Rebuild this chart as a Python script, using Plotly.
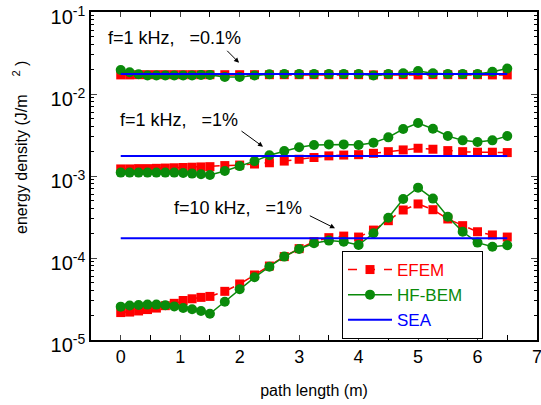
import plotly.graph_objects as go

# path length positions (m)
x_path = [0.0, 0.15, 0.3, 0.45, 0.6, 0.75, 0.9, 1.05, 1.2, 1.35, 1.5,
          1.75, 2.0, 2.25, 2.5, 2.75, 3.0, 3.25, 3.5, 3.75, 4.0,
          4.25, 4.5, 4.75, 5.0, 5.25, 5.5, 5.75, 6.0, 6.25, 6.5]

# f=1 kHz, eta=0.1%
efem_1k_01 = [0.0171, 0.0171, 0.0172, 0.0172, 0.0172, 0.0172, 0.0172, 0.0172, 0.0172, 0.0172, 0.0172,
              0.0172, 0.0172, 0.0172, 0.0172, 0.0172, 0.0172, 0.0172, 0.0172, 0.0172, 0.0172,
              0.0171, 0.0172, 0.0172, 0.0171, 0.0172, 0.0172, 0.0172, 0.0172, 0.0171, 0.0171]
bem_1k_01 = [0.0196, 0.0184, 0.0174, 0.0168, 0.0168, 0.0168, 0.0168, 0.0168, 0.0168, 0.0171, 0.0171,
             0.0161, 0.0161, 0.0168, 0.0174, 0.0175, 0.0175, 0.0175, 0.0175, 0.0175, 0.0175,
             0.0168, 0.0175, 0.0179, 0.0191, 0.0179, 0.0175, 0.0175, 0.0175, 0.0187, 0.0205]

# f=1 kHz, eta=1%
efem_1k_1 = [1.22e-3, 1.22e-3, 1.23e-3, 1.23e-3, 1.24e-3, 1.25e-3, 1.26e-3, 1.27e-3, 1.28e-3, 1.29e-3, 1.30e-3,
             1.34e-3, 1.36e-3, 1.40e-3, 1.45e-3, 1.52e-3, 1.60e-3, 1.68e-3, 1.76e-3, 1.80e-3, 1.82e-3,
             1.89e-3, 1.98e-3, 2.08e-3, 2.18e-3, 2.12e-3, 2.04e-3, 1.98e-3, 1.95e-3, 1.95e-3, 1.93e-3]
bem_1k_1 = [1.10e-3, 1.10e-3, 1.10e-3, 1.10e-3, 1.10e-3, 1.10e-3, 1.10e-3, 1.09e-3, 1.07e-3, 1.05e-3, 1.03e-3,
            1.15e-3, 1.32e-3, 1.52e-3, 1.79e-3, 2.02e-3, 2.24e-3, 2.39e-3, 2.43e-3, 2.43e-3, 2.39e-3,
            2.55e-3, 2.96e-3, 3.74e-3, 4.43e-3, 3.77e-3, 3.08e-3, 2.72e-3, 2.60e-3, 2.72e-3, 3.08e-3]

# f=10 kHz, eta=1%
efem_10k_1 = [2.16e-5, 2.19e-5, 2.26e-5, 2.35e-5, 2.45e-5, 2.62e-5, 2.80e-5, 3.03e-5, 3.18e-5, 3.31e-5, 3.40e-5,
              3.92e-5, 4.82e-5, 6.21e-5, 7.98e-5, 1.04e-4, 1.30e-4, 1.58e-4, 1.77e-4, 1.85e-4, 1.80e-4,
              2.19e-4, 2.85e-4, 3.85e-4, 4.56e-4, 3.88e-4, 2.99e-4, 2.48e-4, 2.09e-4, 1.91e-4, 1.80e-4]
bem_10k_1 = [2.55e-5, 2.63e-5, 2.67e-5, 2.70e-5, 2.70e-5, 2.65e-5, 2.57e-5, 2.45e-5, 2.37e-5, 2.26e-5, 2.09e-5,
             2.93e-5, 4.15e-5, 5.81e-5, 7.83e-5, 1.04e-4, 1.29e-4, 1.51e-4, 1.63e-4, 1.58e-4, 1.44e-4,
             2.00e-4, 3.10e-4, 5.25e-4, 7.21e-4, 5.30e-4, 3.19e-4, 2.09e-4, 1.54e-4, 1.37e-4, 1.43e-4]

# SEA (constant levels)
sea_x = [0.0, 6.5]
sea_1k_01 = [1.75e-2, 1.75e-2]
sea_1k_1 = [1.75e-3, 1.75e-3]
sea_10k_1 = [1.74e-4, 1.74e-4]

y_tickvals = [1e-5, 1e-4, 1e-3, 1e-2, 1e-1]
y_ticktext = ["10<sup>-5</sup>", "10<sup>-4</sup>", "10<sup>-3</sup>", "10<sup>-2</sup>", "10<sup>-1</sup>"]
x_tickvals = [0, 1, 2, 3, 4, 5, 6, 7]

FONT = "Liberation Sans, Arial, sans-serif"
RED = "#ff0000"
GREEN = "#0a8a0a"
BLUE = "#0000ff"
NB = "\u00a0"


def join(*groups):
    xs, ys = [], []
    for gx, gy in groups:
        if xs:
            xs.append(None)
            ys.append(None)
        xs.extend(gx)
        ys.extend(gy)
    return xs, ys


fig = go.Figure()

ex, ey = join((x_path, efem_1k_01), (x_path, efem_1k_1), (x_path, efem_10k_1))
fig.add_trace(go.Scatter(
    x=ex, y=ey, mode="lines+markers", connectgaps=False,
    name="<span style='color:#ff0000'>EFEM</span>" + NB * 4,
    line=dict(color=RED, width=1.5, dash="dash"),
    marker=dict(symbol="square", size=9, color=RED),
))

bx, by = join((x_path, bem_1k_01), (x_path, bem_1k_1), (x_path, bem_10k_1))
fig.add_trace(go.Scatter(
    x=bx, y=by, mode="lines+markers", connectgaps=False,
    name="<span style='color:#0a8a0a'>HF-BEM</span>" + NB * 3,
    line=dict(color=GREEN, width=1.5),
    marker=dict(symbol="circle", size=10, color=GREEN),
))

sx, sy = join((sea_x, sea_1k_01), (sea_x, sea_1k_1), (sea_x, sea_10k_1))
fig.add_trace(go.Scatter(
    x=sx, y=sy, mode="lines", connectgaps=False,
    name="<span style='color:#0000ff'>SEA</span>",
    line=dict(color=BLUE, width=2),
))

# plot area in pixels: x 91..537, y 12..340
L, R, T, B = 91, 537, 12, 340
W, H = 541, 405


def px(xp):
    return (xp - L) / (R - L)


def py(yp):
    return (B - yp) / (B - T)


labels = [
    ("f=1 kHz," + NB * 3 + "=0.1%", 106, 38),
    ("f=1 kHz," + NB * 3 + "=1%", 118, 120),
    ("f=10 kHz," + NB * 3 + "=1%", 172, 208),
]
for txt, lx, ly in labels:
    fig.add_annotation(text=txt, x=px(lx), y=py(ly), xref="paper", yref="paper",
                       xanchor="left", yanchor="middle", showarrow=False,
                       font=dict(family=FONT, size=18, color="black"))

arrows = [((239, 62.7), (225.7, 49.3)),
          ((263, 146.7), (240, 130)),
          ((335, 228.3), (308.3, 215))]
for (hx, hy), (tx, ty) in arrows:
    fig.add_annotation(x=px(hx), y=py(hy), xref="paper", yref="paper", text="",
                       showarrow=True, ax=tx - hx, ay=ty - hy,
                       arrowhead=2, arrowsize=1, arrowwidth=1, arrowcolor="black")

# y-axis title as rotated annotation
fig.add_annotation(text="energy density (J/m" + NB * 4 + "<sup>2</sup>" + NB + ")",
                   x=px(20), y=py(148),
                   xref="paper", yref="paper", textangle=-90, showarrow=False,
                   xanchor="center", yanchor="middle",
                   font=dict(family=FONT, size=16, color="black"))

fig.update_layout(
    width=W, height=H,
    margin=dict(l=L, r=W - R, t=T, b=H - B),
    paper_bgcolor="white", plot_bgcolor="white",
    font=dict(family=FONT, size=16, color="black"),
    showlegend=True,
    legend=dict(x=px(342), y=py(339), xanchor="left", yanchor="bottom",
                bordercolor="black", borderwidth=1, bgcolor="white",
                font=dict(family=FONT, size=17), itemwidth=44,
                tracegroupgap=0),
    xaxis=dict(range=[-0.5, 7.0001], tickvals=x_tickvals, ticks="inside", ticklen=5,
               showline=True, linecolor="black", linewidth=1.5, mirror="allticks",
               showgrid=False, zeroline=False, automargin=False,
               ticklabeloverflow="allow",
               tickfont=dict(family=FONT, size=18),
               minor=dict(dtick=0.5, ticks="inside", ticklen=5, tickcolor="black", showgrid=False),
               title=dict(text="path length (m)", font=dict(family=FONT, size=16), standoff=18)),
    yaxis=dict(type="log", range=[-5.0001, -0.9999], tickvals=y_tickvals, ticktext=y_ticktext,
               ticks="inside", ticklen=6, showline=True, linecolor="black", linewidth=1.5,
               mirror="allticks", showgrid=False, zeroline=False, automargin=False,
               ticklabeloverflow="allow", ticklabelshift=5,
               tickfont=dict(family=FONT, size=20),
               minor=dict(dtick="D1", ticks="inside", ticklen=3, tickcolor="black", showgrid=False)),
)

fig.write_html("out.html", config={"displayModeBar": False},
               post_script="document.body.style.margin='0';document.body.style.overflow='hidden';")
